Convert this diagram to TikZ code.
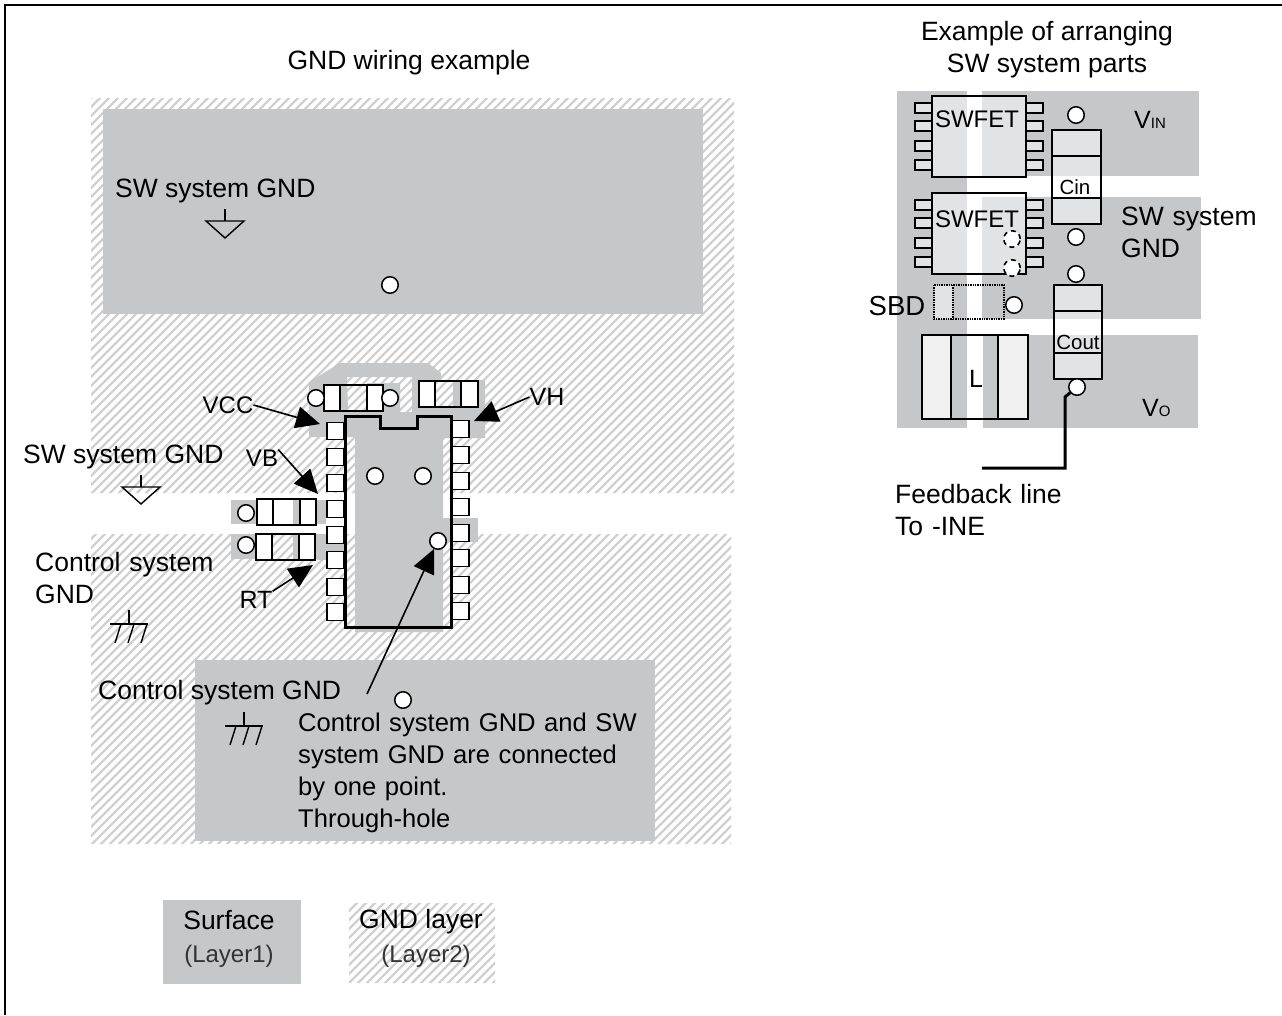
\documentclass[tikz,border=0pt]{standalone}
\usepackage{fontspec}
\setmainfont{Liberation Sans}
\usetikzlibrary{arrows.meta}
\definecolor{layergray}{HTML}{C6C7C9}
\definecolor{hatchgray}{HTML}{D0D0D1}
\definecolor{labelgray}{HTML}{333333}
\tikzset{
  lbl/.style={inner sep=0pt,font=\fontsize{26.5}{32}\selectfont},
  lblpart/.style={inner sep=0pt,font=\fontsize{24}{28}\selectfont},
  lblsmall/.style={inner sep=0pt,font=\fontsize{24}{28}\selectfont,text=labelgray},
  hole/.style={circle,draw,line width=1.5pt,fill=white,minimum size=16.5pt,inner sep=0pt},
  pin/.style={draw,line width=1.4pt,fill=white},
  part/.style={draw,line width=2pt},
  callout/.style={line width=1.6pt,-{Triangle[length=24pt,width=22pt]}},
}
\begin{document}
\begin{tikzpicture}[x=1pt,y=-1pt]
  \useasboundingbox (0,0) rectangle (1282,1015);
  \fill[white] (0,0) rectangle (1282,1015);
  \draw[line width=2.4pt] (5,1015) -- (5,5) -- (1282,5);
  % GND layer
  \begin{scope}
    \clip (91,98) rectangle (734,493) (91,534) rectangle (731,844) (349,903) rectangle (495,983);
    \foreach \i in {0,9,...,1900} \draw[hatchgray,line width=2.4pt] (\i,0) -- (\i-1000,1000);
  \end{scope}
  % surface
  \fill[layergray] (103,109) rectangle (703,314);
  \fill[layergray] (195,660) rectangle (655,841);
  \fill[layergray] (163,900) rectangle (301,984);
  \fill[layergray,even odd rule] (309,382) -- (340,363) -- (428,363) -- (441,373) -- (441,380) -- (485,380) -- (485,438) -- (443,438) -- (443,632) -- (355,632) -- (355,437) -- (309,437) -- cycle
    (347,377) -- (412,377) -- (412,412) -- (400,412) -- (400,383) -- (367,383) -- (367,411) -- (348,411) -- cycle
    (435,381) rectangle (453,407);
  \fill[layergray] (231,500) rectangle (273,524);
  \fill[layergray] (293,500) rectangle (326,524);
  \fill[layergray] (231,534) rectangle (272,559);
  \fill[layergray] (293,534) rectangle (326,559);
  \fill[layergray] (317,543) rectangle (345,560);
  \fill[layergray] (443,518) rectangle (478,542);
  % parts on the left board
  \foreach \x/\y/\a/\b in {324/385/340/367,419/381/435/461,257/499/273/300,256/534/272/299} {
    \fill[white] (\x,\y) rectangle (\a,\y+26);
    \fill[white] (\b,\y) rectangle (\x+59,\y+26);
    \draw[part] (\x,\y) rectangle (\x+59,\y+26);
    \draw[line width=1.2pt] (\a,\y) -- (\a,\y+26);
    \draw[line width=1.2pt] (\b,\y) -- (\b,\y+26);
  }
  \foreach \y in {431,457,483,509,535,560,587,612} \draw[pin] (327,\y-8.5) rectangle (344,\y+8.5);
  \foreach \y in {429,455,481,507,533,558,585,611} \draw[pin] (452,\y-8.5) rectangle (469,\y+8.5);
  \draw[line width=3pt] (345,416) -- (380,416) -- (380,428) -- (417,428) -- (417,416) -- (451,416) -- (451,627) -- (345,627) -- cycle;
  \foreach \n/\x/\y in {topvia/390/285,botvia/403/700,icvia/375/476,icvib/423/476,tvia/438/541,vccvia/316/398,vccvib/390/398,rtvia/246/513,rtvib/246/545}
    \node[hole] (\n) at (\x,\y) {};
  % ground marks
  \foreach \x/\y in {225/209,141/475,1146/271} {
    \draw[line width=1.4pt] (\x,\y) -- (\x,\y+12);
    \draw[line width=1.4pt] (\x-19,\y+12) -- (\x+19,\y+12) -- (\x,\y+29) -- cycle;
  }
  \foreach \x/\y in {129/610,244/712} {
    \draw[line width=1.2pt] (\x,\y) -- (\x,\y+14);
    \draw[line width=2pt] (\x-19,\y+14) -- (\x+19,\y+14);
    \foreach \d in {-13,0,13} \draw[line width=1.4pt] (\x+\d+5,\y+14) -- (\x+\d-1,\y+33);
  }
  % labels of the left board
  \node[lbl] (wiring) at (409,63) {GND wiring example};
  \node[lbl,anchor=west] (swgnda) at (115,191) {SW system GND};
  \node[lbl,anchor=west] (swgndb) at (23,457) {SW system GND};
  \node[lbl,anchor=north west,align=left,text width=200pt] (ctla) at (35,552) {Control system\\GND};
  \node[lbl,anchor=west] (ctlb) at (98,693) {Control system GND};
  \node[lbl,anchor=north west,align=left,text width=360pt,font=\fontsize{25.6}{32}\selectfont] (note) at (298,713) {Control system GND and SW\\system GND are connected\\by one point.\\Through-hole};
  \node[lblpart] (vcc) at (228,405) {VCC};
  \node[lbl,font=\fontsize{25}{29}\selectfont] (vh) at (547,397) {VH};
  \node[lblpart] (vb) at (262,458) {VB};
  \node[lbl,font=\fontsize{25}{29}\selectfont] (rt) at (256,600) {RT};
  \coordinate (vcctip) at (320,424);
  \coordinate (vhtip) at (474,421);
  \coordinate (vbtip) at (318,494);
  \coordinate (rttip) at (313,565);
  \coordinate (ttail) at (367,694);
  \coordinate (ttip) at (434,549);
  \draw[callout] (vcc.east) -- (vcctip);
  \draw[callout] (vh.west) -- (vhtip);
  \draw[callout] (vb.north east) -- (vbtip);
  \draw[callout] (rt.north east) -- (rttip);
  \draw[callout] (ttail) -- (ttip);
  \node[lbl] (surface) at (229,920) {Surface};
  \node[lblsmall] (layera) at (229,956) {(Layer1)};
  \node[lbl] (gndlayer) at (421,922) {GND layer};
  \node[lblsmall] (layerb) at (426,956) {(Layer2)};
  % right board
  \node[lbl,align=center] (arrange) at (1047,50) {Example of arranging\\SW system parts};
  \fill[layergray] (897,91) rectangle (967,428);
  \fill[layergray] (982,91) rectangle (1199,176);
  \fill[layergray] (982,197) rectangle (1201,319);
  \fill[layergray] (983,335) rectangle (1198,428);
  \foreach \y/\a/\b/\c/\d in {96/103/121/141/160,193/200/218/238/257} {
    \draw[part,fill=white,fill opacity=.5] (932,\y) rectangle (1026,\y+81);
    \foreach \p in {\a,\b,\c,\d} {
      \draw[pin,fill opacity=.5] (915,\p) rectangle (932,\p+10);
      \draw[pin,fill opacity=.5] (1026,\p) rectangle (1043,\p+10);
    }
  }
  \draw[part,fill=white,fill opacity=.5] (1052,130) rectangle (1101,224);
  \draw[line width=1.6pt] (1052,156) -- (1101,156) (1052,198) -- (1101,198);
  \draw[part,fill=white,fill opacity=.5] (1054,285) rectangle (1102,379);
  \draw[line width=1.6pt] (1054,311) -- (1102,311) (1054,353) -- (1102,353);
  \draw[part,fill=white,fill opacity=.75] (922,335) rectangle (951,419);
  \draw[part,fill=white,fill opacity=.75] (998,335) rectangle (1028,419);
  \draw[part] (951,335) -- (998,335) (951,419) -- (998,419);
  \fill[white,opacity=.5] (934,285) rectangle (953,319);
  \draw[densely dotted,line width=1.4pt] (934,285) rectangle (1004,319) (953,285) -- (953,319);
  \foreach \n/\y in {fetvia/239,fetvib/268}
    \node[hole,line width=1.6pt,dash pattern=on 5pt off 4pt] (\n) at (1012,\y) {};
  \foreach \n/\x/\y in {inviaa/1076/115,invib/1076/237,outvia/1076/274,sbdvia/1014/305,fbvia/1077/387}
    \node[hole] (\n) at (\x,\y) {};
  \coordinate (fbbend) at (1065,397);
  \coordinate (fbdown) at (1065,468);
  \coordinate (fbend) at (982,468);
  \draw[line width=3pt] (fbvia) -- (fbbend) -- (fbdown) -- (fbend);
  \node[lblpart] (feta) at (977,119) {SWFET};
  \node[lblpart] (fetb) at (977,219) {SWFET};
  \node[inner sep=0pt,font=\fontsize{20.5}{24}\selectfont] (cin) at (1075,187) {Cin};
  \node[inner sep=0pt,font=\fontsize{20.5}{24}\selectfont] (cout) at (1078,342) {Cout};
  \node[inner sep=0pt,font=\fontsize{25}{28}\selectfont] (ell) at (976,379) {L};
  \node[lbl,font=\fontsize{27.5}{32}\selectfont] (sbd) at (897,306) {SBD};
  \node[lbl,anchor=west,font=\fontsize{25}{29}\selectfont] (vin) at (1134,120) {V{\fontsize{15}{15}\selectfont IN}};
  \node[lbl,anchor=west,font=\fontsize{25}{29}\selectfont] (vo) at (1142,408) {V{\fontsize{15}{15}\selectfont O}};
  \node[lbl,anchor=north west,align=left,text width=140pt] (swgndc) at (1121,207) {SW system\\GND};
  \node[lbl,anchor=north west,align=left,text width=200pt] (fb) at (895,484) {Feedback line\\To -INE};
\end{tikzpicture}
\end{document}
